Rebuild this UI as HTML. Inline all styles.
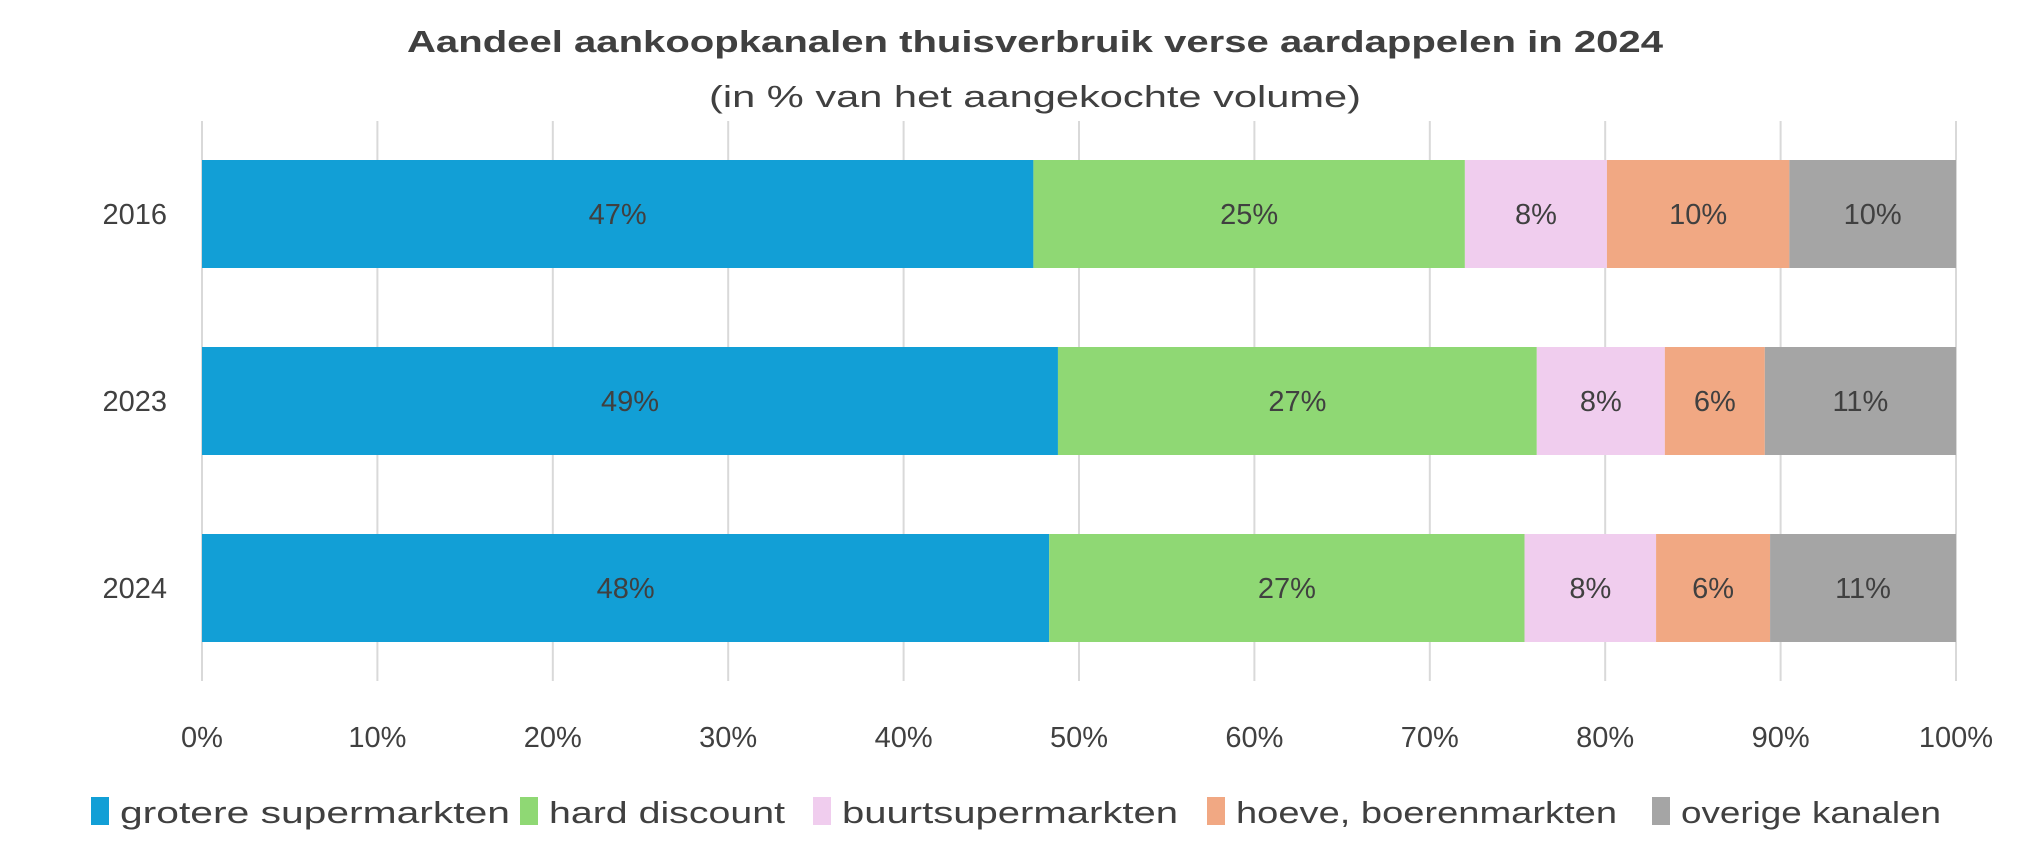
<!DOCTYPE html>
<html><head><meta charset="utf-8"><style>html,body{margin:0;padding:0;background:#fff}svg{display:block}</style></head>
<body>
<svg id="chart" width="2030" height="849" xmlns="http://www.w3.org/2000/svg" font-family="'Liberation Sans', sans-serif">
<text x="1035" y="52" text-anchor="middle" font-size="31" font-weight="bold" fill="#404040" textLength="1256" lengthAdjust="spacingAndGlyphs">Aandeel aankoopkanalen thuisverbruik verse aardappelen in 2024</text>
<text x="1035" y="107" text-anchor="middle" font-size="31" fill="#404040" textLength="652" lengthAdjust="spacingAndGlyphs">(in % van het aangekochte volume)</text>
<g id="grid"></g><g id="bars"></g><g id="labels"></g><g id="legend"></g>
</svg>
<script>
const years = ["2016","2023","2024"];
const series = ["grotere supermarkten","hard discount","buurtsupermarkten","hoeve, boerenmarkten","overige kanalen"];
const grotere = [47.4, 48.8, 48.3];
const hardDiscount = [24.6, 27.3, 27.1];
const buurt = [8.1, 7.3, 7.5];
const hoeve = [10.4, 5.7, 6.5];
const overige = [9.5, 10.9, 10.6];
const valueLabels = [["47%","25%","8%","10%","10%"],["49%","27%","8%","6%","11%"],["48%","27%","8%","6%","11%"]];
const ticks = [0,10,20,30,40,50,60,70,80,90,100];
const colors = ["#129fd6","#8fd874","#f0cdee","#f1a883","#a5a5a5"];
const NS="http://www.w3.org/2000/svg";
const x0=202,x1=1956,gTop=121,gBot=681;
const xs=v=>x0+(x1-x0)*v/100;
const barTop=[160,347,534], barH=108;
function mk(tag,attrs,parent,text){const e=document.createElementNS(NS,tag);for(const k in attrs)e.setAttribute(k,attrs[k]);if(text!==undefined)e.textContent=text;document.getElementById(parent).appendChild(e);return e;}
ticks.forEach(t=>{
  const l=mk("line",{x1:xs(t),x2:xs(t),y1:gTop,y2:gBot,stroke:"#d9d9d9","stroke-width":2},"grid");
  
  
  const tx=mk("text",{x:xs(t),y:747,"text-anchor":"middle","font-size":29,fill:"#404040"},"grid",t+"%");
  
  
});
const all=[grotere,hardDiscount,buurt,hoeve,overige];
years.forEach((y,i)=>{
  const yl=mk("text",{x:167,y:barTop[i]+barH/2+10,"text-anchor":"end","font-size":29,fill:"#404040"},"labels",y);
  
  
  let cum=0;
  all.forEach((s,j)=>{
    const a=xs(cum),b=xs(cum+s[i]);
    const r=mk("rect",{x:a,y:barTop[i],width:b-a,height:barH,fill:colors[j]},"bars");
    
    
    const t=mk("text",{x:(a+b)/2,y:barTop[i]+barH/2+10,"text-anchor":"middle","font-size":29,fill:"#404040"},"labels",valueLabels[i][j]);
    
    
    cum+=s[i];
  });
});
const legX=[91,520,813,1207,1652], legW=[390,236,336,381,260];
series.forEach((s,j)=>{
  const r=mk("rect",{x:legX[j],y:797,width:18,height:28,fill:colors[j]},"legend");
  
  
  const t=mk("text",{x:legX[j]+29,y:823,"font-size":31,fill:"#404040",textLength:legW[j],lengthAdjust:"spacingAndGlyphs"},"legend",s);
  
  
});
</script>
</body></html>
